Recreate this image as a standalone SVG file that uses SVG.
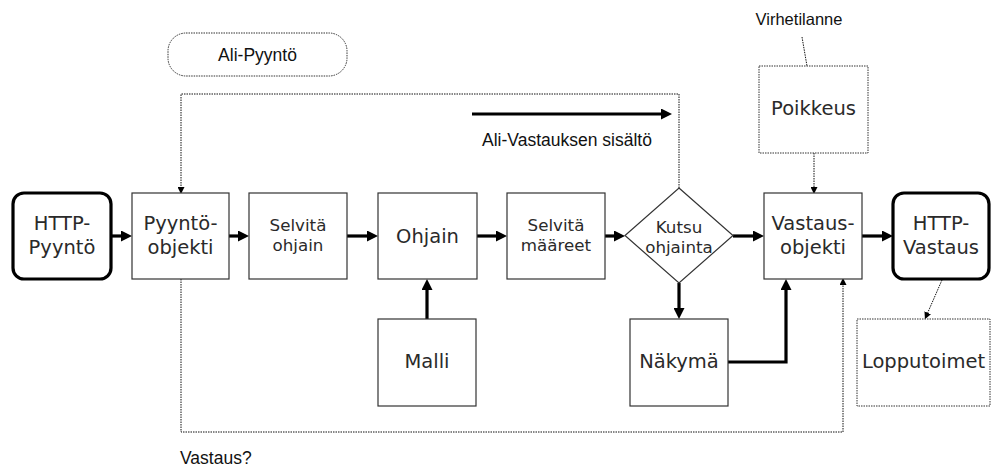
<svg xmlns="http://www.w3.org/2000/svg" width="991" height="468" viewBox="0 0 991 468">
  <defs>
    <style>
      .box { fill: #fff; stroke: #333; stroke-width: 1.2; }
      .term { fill: #fff; stroke: #000; stroke-width: 3.2; }
      .dotbox { fill: #fff; stroke: #333; stroke-width: 1; stroke-dasharray: 1.5 1; }
      .flow { fill: none; stroke: #000; stroke-width: 3.2; marker-end: url(#ah); }
      .dot { fill: none; stroke: #111; stroke-width: 1; stroke-dasharray: 1.5 1; }
      .dotarrow { fill: none; stroke: #111; stroke-width: 1; stroke-dasharray: 1.5 1; marker-end: url(#dh); }
      .big { font-family: "DejaVu Sans", sans-serif; font-size: 19.5px; fill: #2a2a2a; text-anchor: middle; }
      .small { font-family: "DejaVu Sans", sans-serif; font-size: 16.7px; fill: #2a2a2a; text-anchor: middle; }
      .label { font-family: "Liberation Sans", Arial, sans-serif; font-size: 17.5px; fill: #111; }
    </style>
    <marker id="ah" viewBox="0 0 11 11" refX="5" refY="5.5" markerWidth="11" markerHeight="11" markerUnits="userSpaceOnUse" orient="auto">
      <path d="M0,0 L11,5.5 L0,11 z" fill="#000"/>
    </marker>
    <marker id="dh" viewBox="0 0 7 7" refX="3" refY="3.5" markerWidth="7" markerHeight="7" markerUnits="userSpaceOnUse" orient="auto">
      <path d="M0,0 L7,3.5 L0,7 z" fill="#000"/>
    </marker>
  </defs>

  <!-- connectors -->
  <g id="connectors">
    <!-- main request flow -->
    <path class="flow" d="M111,236 L126,236"/>
    <path class="flow" d="M229,236 L243,236"/>
    <path class="flow" d="M347,236 L372,236"/>
    <path class="flow" d="M477,236 L501,236"/>
    <path class="flow" d="M605,236 L619,236"/>
    <path class="flow" d="M733,236 L758,236"/>
    <path class="flow" d="M862,236 L887,236"/>
    <!-- model to controller -->
    <path class="flow" d="M427,319 L427,285"/>
    <!-- controller call to view -->
    <path class="flow" d="M679,283 L679,313"/>
    <!-- view to response object -->
    <path class="flow" d="M728,362 L786,362 L786,285"/>
    <!-- sub-response content arrow -->
    <path class="flow" d="M472,114 L666,114"/>
    <!-- sub-request loop -->
    <path class="dotarrow" d="M679,188 L679,94 L181,94 L181,190"/>
    <!-- response? loop -->
    <path class="dotarrow" d="M181,279 L181,432 L843,432 L843,282"/>
    <!-- exception to response object -->
    <path class="dotarrow" d="M814,153 L814,190"/>
    <!-- error annotation -->
    <path class="dot" d="M802,37 L807,66"/>
    <!-- HTTP response to final actions -->
    <path class="dotarrow" d="M942,280 L926.5,315.5"/>
  </g>

  <g id="http-pyynto">
    <rect class="term" x="13" y="193" width="98" height="86" rx="11"/>
    <text class="big" x="62" y="230">HTTP-</text>
    <text class="big" x="62" y="254">Pyyntö</text>
  </g>

  <g id="pyynto-objekti">
    <rect class="box" x="132" y="193" width="97" height="86"/>
    <text class="big" x="180.5" y="230">Pyyntö-</text>
    <text class="big" x="180.5" y="254">objekti</text>
  </g>

  <g id="selvita-ohjain">
    <rect class="box" x="249" y="193" width="98" height="86"/>
    <text class="small" x="298" y="230.5">Selvitä</text>
    <text class="small" x="298" y="250.5">ohjain</text>
  </g>

  <g id="ohjain">
    <rect class="box" x="378" y="193" width="99" height="86"/>
    <text class="big" x="427.5" y="243">Ohjain</text>
  </g>

  <g id="selvita-maareet">
    <rect class="box" x="507" y="193" width="98" height="86"/>
    <text class="small" x="556" y="230.5">Selvitä</text>
    <text class="small" x="556" y="250.5">määreet</text>
  </g>

  <g id="kutsu-ohjainta">
    <polygon class="box" points="679,188 733,235.5 679,283 625,235.5"/>
    <text class="small" x="679" y="232.5">Kutsu</text>
    <text class="small" x="679" y="252.5">ohjainta</text>
  </g>

  <g id="vastaus-objekti">
    <rect class="box" x="764" y="193" width="98" height="86"/>
    <text class="big" x="813" y="230">Vastaus-</text>
    <text class="big" x="813" y="254">objekti</text>
  </g>

  <g id="http-vastaus">
    <rect class="term" x="893" y="193" width="96" height="86" rx="11"/>
    <text class="big" x="941" y="230">HTTP-</text>
    <text class="big" x="941" y="254">Vastaus</text>
  </g>

  <g id="malli">
    <rect class="box" x="378" y="319" width="98" height="87"/>
    <text class="big" x="427" y="368">Malli</text>
  </g>

  <g id="nakyma">
    <rect class="box" x="630" y="319" width="98" height="87"/>
    <text class="big" x="679" y="368">Näkymä</text>
  </g>

  <g id="poikkeus">
    <rect class="dotbox" x="759" y="66" width="109" height="87"/>
    <text class="big" x="813.5" y="115">Poikkeus</text>
  </g>

  <g id="lopputoimet">
    <rect class="dotbox" x="857" y="319" width="133" height="87"/>
    <text class="big" x="923.5" y="368">Lopputoimet</text>
  </g>

  <g id="ali-pyynto">
    <rect class="dotbox" x="168" y="33" width="179" height="43" rx="18"/>
    <text class="label" x="257.5" y="61" text-anchor="middle">Ali-Pyyntö</text>
  </g>

  <g id="labels">
    <text class="label" x="482" y="146">Ali-Vastauksen sisältö</text>
    <text class="label" x="180" y="464">Vastaus?</text>
    <text class="label" x="799" y="25" text-anchor="middle" style="font-size:16.5px">Virhetilanne</text>
  </g>
</svg>
